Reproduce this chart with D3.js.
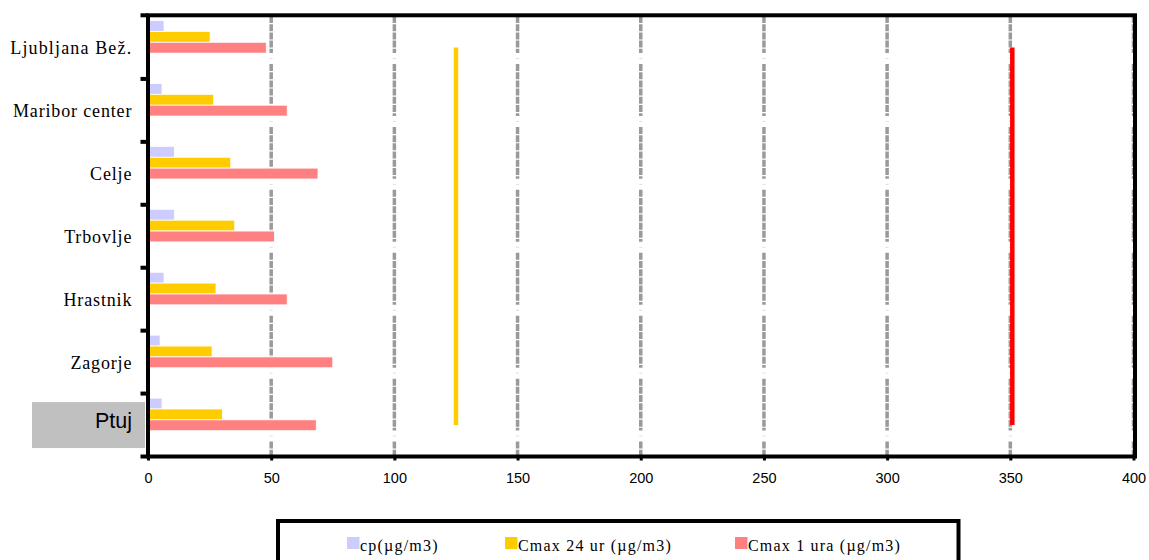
<!DOCTYPE html>
<html>
<head>
<meta charset="utf-8">
<script src="https://cdn.jsdelivr.net/npm/d3@7"></script>
<style>
  html, body { margin: 0; padding: 0; background: #fff; }
  svg { display: block; }
</style>
</head>
<body>
<svg id="chart" width="1149" height="560"></svg>
<script>
// ---- data ----
const categories = ["Ljubljana Bež.", "Maribor center", "Celje", "Trbovlje", "Hrastnik", "Zagorje", "Ptuj"];
const seriesNames = ["cp(µg/m3)", "Cmax 24 ur (µg/m3)", "Cmax 1 ura (µg/m3)"];
const cpValues     = [6.5, 5.7, 10.7, 10.7, 6.5, 4.9, 5.7];
const cmax24Values = [25.2, 26.7, 33.6, 35.2, 27.6, 26.0, 30.2];
const cmax1Values  = [48.0, 56.5, 69.0, 51.3, 56.5, 75.0, 68.3];
const limit24Values = [125, 125, 125, 125, 125, 125, 125];
const limit1Values  = [350, 350, 350, 350, 350, 350, 350];
const xTicks = [0, 50, 100, 150, 200, 250, 300, 350, 400];
const highlighted = "Ptuj";

const seriesColors = ["#ccccff", "#ffcc00", "#ff8080"];
const seriesData = [cpValues, cmax24Values, cmax1Values];

// ---- layout ----
const svg = d3.select("#chart");
const plotLeft = 148, plotRight = 1133.5, plotTop = 16, plotBottom = 456.5;

const x = d3.scaleLinear().domain([0, 400]).range([plotLeft, plotRight]);
const y = d3.scaleBand().domain(categories).range([plotTop, plotBottom]).padding(0);
const bw = y.bandwidth();
const ySub = d3.scaleBand().domain(d3.range(seriesNames.length)).range([bw * 0.072, bw * 0.59]).padding(0);

// gridline segments: one per band, broken between rows
const segs = [];
for (let i = 0; i <= categories.length; i++) {
  const s = i === 0 ? plotTop : y(categories[i - 1]) + 48;
  const e = i < categories.length ? y(categories[i]) + 37 : plotBottom;
  if (e > s) segs.push([s, e]);
}
const gridG = svg.append("g");
xTicks.filter(d => d > 0).forEach(v => {
  gridG.append("g").selectAll("line").data(segs).join("line")
    .attr("x1", x(v)).attr("x2", x(v))
    .attr("y1", d => d[0]).attr("y2", d => d[1])
    .attr("stroke", "#9a9a9a").attr("stroke-width", 3.5)
    .attr("stroke-dasharray", "7,1.2");
  // faint marks in the gaps
  gridG.append("g").selectAll("line").data(categories).join("line")
    .attr("x1", x(v) - 1.5).attr("x2", x(v) + 1.5)
    .attr("y1", c => y(c) + 42.5).attr("y2", c => y(c) + 42.5)
    .attr("stroke", "#dddddd").attr("stroke-width", 1);
});

// bars
const barG = svg.append("g");
categories.forEach((cat, i) => {
  seriesData.forEach((vals, s) => {
    barG.append("rect")
      .attr("x", x(0))
      .attr("y", y(cat) + ySub(s))
      .attr("width", x(vals[i]) - x(0))
      .attr("height", ySub.bandwidth())
      .attr("fill", seriesColors[s])
      .attr("stroke", "#ffffff").attr("stroke-width", 0.8);
  });
});

// limit lines
const line = d3.line().x(d => x(d.v)).y(d => y(d.c) + bw / 2);
svg.append("path")
  .datum(categories.map((c, i) => ({c, v: limit24Values[i]})))
  .attr("d", line).attr("fill", "none").attr("stroke", "#ffcc00").attr("stroke-width", 4.5);
svg.append("path")
  .datum(categories.map((c, i) => ({c, v: limit1Values[i]})))
  .attr("d", line).attr("fill", "none").attr("stroke", "#ff0000").attr("stroke-width", 4.5)
  .attr("transform", "translate(2,0)");

// plot frame
svg.append("rect")
  .attr("x", plotLeft).attr("y", 15.3).attr("width", 1135 - plotLeft).attr("height", plotBottom - 15.3)
  .attr("fill", "none").attr("stroke", "#000").attr("stroke-width", 4);

// left ticks at band boundaries
const yBounds = categories.map(c => y(c)).concat([y(categories[categories.length - 1]) + bw]);
yBounds[0] = 15.3;
svg.append("g").selectAll("line").data(yBounds).join("line")
  .attr("x1", plotLeft - 7.5).attr("x2", plotLeft)
  .attr("y1", d => d).attr("y2", d => d)
  .attr("stroke", "#000").attr("stroke-width", 4);

// x axis
const xAxis = svg.append("g").attr("transform", `translate(0,${plotBottom})`)
  .call(d3.axisBottom(x).tickValues(xTicks).tickSize(4).tickPadding(12.5).tickFormat(d3.format("d")));
xAxis.select(".domain").remove();
xAxis.selectAll(".tick line").attr("stroke", "#000").attr("stroke-width", 3);
xAxis.selectAll(".tick text")
  .attr("font-family", "'Liberation Sans', Arial, sans-serif")
  .attr("font-size", 14.5).attr("fill", "#000");

// category labels
const catG = svg.append("g");
catG.append("rect")
  .attr("x", 32).attr("y", y(highlighted) + 8.5)
  .attr("width", 113).attr("height", 46)
  .attr("fill", "#c0c0c0");
catG.selectAll("text").data(categories).join("text")
  .attr("x", d => d === highlighted ? 132 : 132.3)
  .attr("y", d => y(d) + bw / 2 + (d === highlighted ? 2.5 : 6.8))
  .attr("text-anchor", "end")
  .attr("font-family", d => d === highlighted ? "'Liberation Sans', Arial, sans-serif" : "'Liberation Serif', 'Times New Roman', serif")
  .attr("font-size", d => d === highlighted ? 21.5 : 18)
  .attr("letter-spacing", d => d === highlighted ? 0 : (d === "Ljubljana Bež." ? 1.15 : 0.85))
  .attr("fill", "#000")
  .text(d => d);

// legend
const legG = svg.append("g");
legG.append("rect")
  .attr("x", 278).attr("y", 521).attr("width", 680.5).attr("height", 70)
  .attr("fill", "#fff").attr("stroke", "#000").attr("stroke-width", 4);
const legX = [347, 505, 735];
seriesNames.forEach((name, s) => {
  legG.append("rect")
    .attr("x", legX[s]).attr("y", 537).attr("width", 12.5).attr("height", 12)
    .attr("fill", seriesColors[s]);
  legG.append("text")
    .attr("x", legX[s] + 13).attr("y", 550.5)
    .attr("font-family", "'Liberation Serif', 'Times New Roman', serif")
    .attr("font-size", 16).attr("letter-spacing", 1.2)
    .attr("fill", "#000")
    .text(name);
});
</script>
</body>
</html>
